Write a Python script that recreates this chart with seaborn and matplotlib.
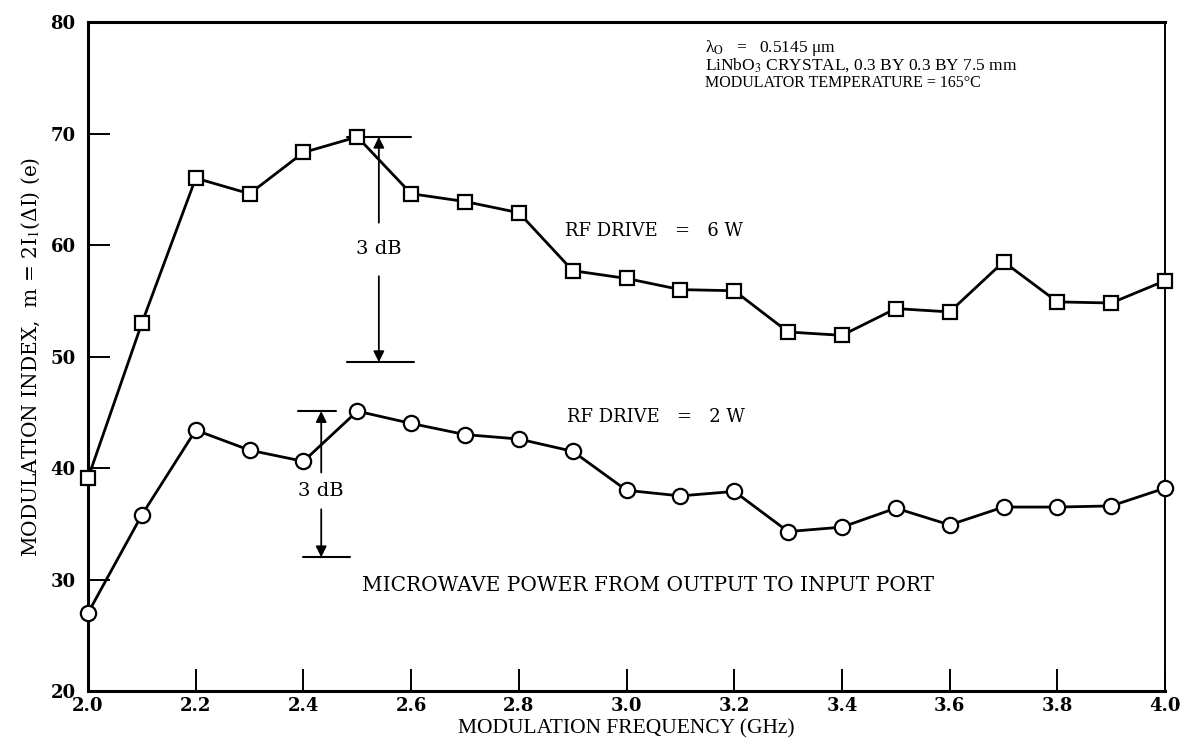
import matplotlib
matplotlib.use("Agg")
import matplotlib.pyplot as plt
import seaborn as sns
import pandas as pd

# modulation frequency (GHz) and modulation index for the two RF drive levels
freq = [2.0, 2.1, 2.2, 2.3, 2.4, 2.5, 2.6, 2.7, 2.8, 2.9, 3.0,
        3.1, 3.2, 3.3, 3.4, 3.5, 3.6, 3.7, 3.8, 3.9, 4.0]
drive_6w = [39.1, 53.0, 66.0, 64.6, 68.3, 69.7, 64.6, 63.9, 62.9, 57.7, 57.0,
            56.0, 55.9, 52.2, 51.9, 54.3, 54.0, 58.5, 54.9, 54.8, 56.8]
drive_2w = [27.0, 35.8, 43.4, 41.6, 40.6, 45.1, 44.0, 43.0, 42.6, 41.5, 38.0,
            37.5, 37.9, 34.3, 34.7, 36.4, 34.9, 36.5, 36.5, 36.6, 38.2]

x_ticks = [2.0, 2.2, 2.4, 2.6, 2.8, 3.0, 3.2, 3.4, 3.6, 3.8, 4.0]
y_ticks = [20, 30, 40, 50, 60, 70, 80]

sns.set_style("white")
plt.rcParams['font.family'] = ['Liberation Serif', 'DejaVu Serif']
plt.rcParams['mathtext.fontset'] = 'stix'
for key in ['text.color', 'axes.labelcolor', 'xtick.color', 'ytick.color']:
    plt.rcParams[key] = 'black'
WIDE = ['DejaVu Serif']

df6 = pd.DataFrame({'freq': freq, 'm': drive_6w})
df2 = pd.DataFrame({'freq': freq, 'm': drive_2w})

fig = plt.figure(figsize=(11.85, 7.49), dpi=100)
ax = fig.add_axes([0.0743, 0.0774, 0.9089, 0.8932])

sns.lineplot(data=df6, x='freq', y='m', ax=ax, color='black', lw=2,
             marker='s', markersize=10, markerfacecolor='white',
             markeredgecolor='black', markeredgewidth=1.6, clip_on=False,
             zorder=5)
sns.lineplot(data=df2, x='freq', y='m', ax=ax, color='black', lw=2,
             marker='o', markersize=11, markerfacecolor='white',
             markeredgecolor='black', markeredgewidth=1.6, clip_on=False,
             zorder=5)

ax.set_xlim(2.0, 4.0)
ax.set_ylim(20, 80)
ax.set_xticks(x_ticks)
ax.set_xticklabels([f"{v:.1f}" for v in x_ticks])
ax.set_yticks(y_ticks)
ax.set_yticklabels([str(v) for v in y_ticks])
ax.tick_params(bottom=True, left=True, direction='in', length=16, width=1.4,
               color='black')
ax.tick_params(axis='x', pad=4)
ax.tick_params(axis='y', pad=9)
for lab in ax.get_xticklabels() + ax.get_yticklabels():
    lab.set_fontweight('bold')
    lab.set_family(WIDE)
    lab.set_fontsize(13)

for side in ['left', 'bottom', 'top']:
    ax.spines[side].set_linewidth(2.2)
ax.spines['right'].set_linewidth(1.4)
for s in ax.spines.values():
    s.set_color('black')

ax.set_xlabel('MODULATION FREQUENCY (GHz)', fontsize=15.5, labelpad=3)
ax.set_ylabel('MODULATION INDEX,  m = 2I$_1$(ΔI) (e)', fontsize=14.5,
              labelpad=6, family=WIDE)

# condition notes
ax.text(3.146, 77.7, 'λ$_\\mathrm{O}$   =   0.5145 μm', fontsize=12.5,
        va='center')
ax.text(3.146, 76.1, 'LiNbO$_3$ CRYSTAL, 0.3 BY 0.3 BY 7.5 mm', fontsize=12.5,
        va='center')
ax.text(3.146, 74.5, 'MODULATOR TEMPERATURE = 165°C', fontsize=11.5,
        va='center')

ax.text(2.885, 61.3, 'RF DRIVE   =   6 W', fontsize=13, va='center',
        family=WIDE)
ax.text(2.89, 44.6, 'RF DRIVE   =   2 W', fontsize=13, va='center',
        family=WIDE)
ax.text(3.04, 29.5, 'MICROWAVE POWER FROM OUTPUT TO INPUT PORT', fontsize=14.5,
        ha='center', va='center', family=WIDE)

# 3 dB brackets
arrow = dict(arrowstyle='-|>', color='black', lw=1.3, mutation_scale=16,
             shrinkA=0, shrinkB=0)

b6_x, b6_top, b6_bot = 2.54, 69.7, 49.5
ax.plot([2.48, 2.60], [b6_top, b6_top], color='black', lw=1.5)
ax.plot([2.48, 2.605], [b6_bot, b6_bot], color='black', lw=1.5)
ax.annotate('', xy=(b6_x, b6_top), xytext=(b6_x, 62.0), arrowprops=arrow)
ax.annotate('', xy=(b6_x, b6_bot), xytext=(b6_x, 57.2), arrowprops=arrow)
ax.text(b6_x, 59.6, '3 dB', fontsize=14, ha='center', va='center',
        family=WIDE)

b2_x, b2_top, b2_bot = 2.433, 45.1, 32.0
ax.plot([2.39, 2.46], [b2_top, b2_top], color='black', lw=1.5)
ax.plot([2.40, 2.487], [b2_bot, b2_bot], color='black', lw=1.5)
ax.annotate('', xy=(b2_x, b2_top), xytext=(b2_x, 39.6), arrowprops=arrow)
ax.annotate('', xy=(b2_x, b2_bot), xytext=(b2_x, 36.3), arrowprops=arrow)
ax.text(b2_x, 37.9, '3 dB', fontsize=14, ha='center', va='center',
        family=WIDE)

fig.savefig('out.png', dpi=100)
